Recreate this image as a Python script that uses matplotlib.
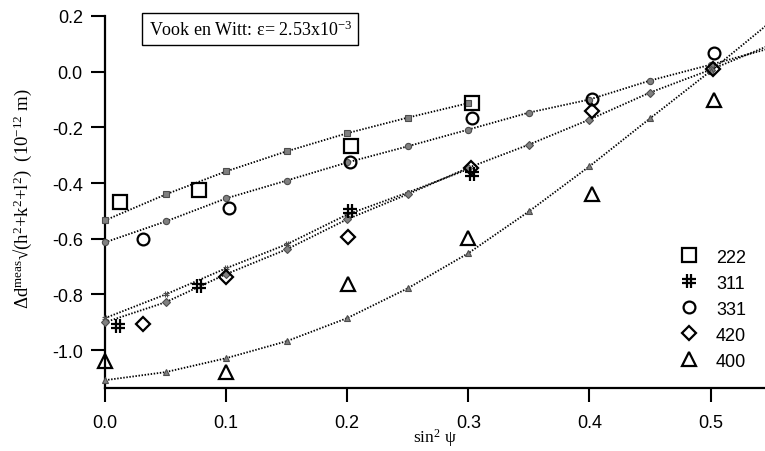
import numpy as np
import matplotlib
matplotlib.use('Agg')
import matplotlib.pyplot as plt
from matplotlib.path import Path
from matplotlib.lines import Line2D

plt.rcParams['font.family'] = ['Liberation Sans', 'DejaVu Sans']
plt.rcParams['axes.unicode_minus'] = False
plt.rcParams['mathtext.fontset'] = 'custom'
plt.rcParams['mathtext.rm'] = 'Liberation Serif'
plt.rcParams['mathtext.it'] = 'Liberation Serif:italic'

# measured points per reflection (sin^2 psi, value)
x_222 = [0.012, 0.078, 0.203, 0.303]
y_222 = [-0.467, -0.426, -0.268, -0.111]
x_311 = [0.011, 0.078, 0.202, 0.303]
y_311 = [-0.914, -0.770, -0.500, -0.368]
x_331 = [0.031, 0.102, 0.202, 0.303, 0.402, 0.503]
y_331 = [-0.602, -0.488, -0.325, -0.166, -0.098, 0.068]
x_420 = [0.031, 0.100, 0.201, 0.302, 0.402, 0.502]
y_420 = [-0.907, -0.738, -0.592, -0.345, -0.140, 0.010]
x_400 = [0.000, 0.100, 0.201, 0.300, 0.402, 0.503]
y_400 = [-1.040, -1.079, -0.763, -0.599, -0.441, -0.100]

# Vook-Witt model values
fit_x = [0.0, 0.05, 0.1, 0.15, 0.2, 0.25, 0.3, 0.35, 0.4, 0.45, 0.5]
fit_222 = [-0.534, -0.441, -0.358, -0.286, -0.221, -0.165, -0.113]
fit_311 = [-0.885, -0.800, -0.706, -0.620, -0.513, -0.434, -0.350]
fit_331 = [-0.613, -0.538, -0.455, -0.391, -0.326, -0.268, -0.208, -0.147, -0.100, -0.032, 0.025]
fit_420 = [-0.900, -0.828, -0.727, -0.638, -0.530, -0.440, -0.345, -0.262, -0.172, -0.075, 0.007]
fit_400 = [-1.108, -1.079, -1.029, -0.968, -0.885, -0.778, -0.652, -0.502, -0.340, -0.168, 0.002]
# model values at the right edge of the plot
edge_x = 0.55
edge_331 = 0.085
edge_420 = 0.097
edge_400 = 0.18

labels = ['222', '311', '331', '420', '400']

# hash marker built from two vertical and two horizontal strokes
hash_path = Path(
    [(-0.35, -1), (-0.35, 1), (0.35, -1), (0.35, 1),
     (-1, -0.35), (1, -0.35), (-1, 0.35), (1, 0.35)],
    [Path.MOVETO, Path.LINETO] * 4)

markers = ['s', hash_path, 'o', 'D', '^']
msizes = [9.5, 10, 8.5, 7.5, 9.5]

fig = plt.figure(figsize=(7.65, 4.52), dpi=100)
ax = fig.add_axes([0.1373, 0.1394, 0.8627, 0.823])

obs = [(x_222, y_222), (x_311, y_311), (x_331, y_331), (x_420, y_420), (x_400, y_400)]
fits = [fit_222, fit_311, fit_331, fit_420, fit_400]
edges = [None, None, edge_331, edge_420, edge_400]

for (xo, yo), fv, ev, m, ms in zip(obs, fits, edges, markers, msizes):
    fx = fit_x[:len(fv)]
    lx, ly = list(fx), list(fv)
    if ev is not None:
        lx.append(edge_x)
        ly.append(ev)
    ax.plot(lx, ly, color='black', lw=1.3, ls=(0, (0.8, 0.9)), zorder=2)
    ax.plot(fx, fv, ls='none', marker=m, ms=4.5, color='0.5', mec='0.3',
            mew=0.8, zorder=3, clip_on=False)
    ax.plot(xo, yo, ls='none', marker=m, ms=ms, mfc='none', mec='black',
            mew=1.6, zorder=4, clip_on=False)

ax.set_xlim(0, 0.545)
ax.set_ylim(-1.136, 0.2)
ax.set_xticks([0.0, 0.1, 0.2, 0.3, 0.4, 0.5])
ax.set_yticks([-1.0, -0.8, -0.6, -0.4, -0.2, 0.0, 0.2])
ax.xaxis.set_major_formatter(plt.FormatStrFormatter('%.1f'))
ax.yaxis.set_major_formatter(plt.FormatStrFormatter('%.1f'))
ax.tick_params(direction='out', length=10, width=1.5, labelsize=13, pad=6)
ax.tick_params(axis='x', pad=9)
for s in ['top', 'right']:
    ax.spines[s].set_visible(False)
for s in ['left', 'bottom']:
    ax.spines[s].set_linewidth(1.6)

ax.set_xlabel('sin$^2$ ψ', family='Liberation Serif', fontsize=12.5, labelpad=-4)
fig.text(0.030, 1 - 199 / 452,
         'Δd$^{\\rm meas}$√(h$^2$+k$^2$+l$^2$)  (10$^{-12}$ m)',
         family='Liberation Serif', fontsize=13.5, rotation=90,
         ha='center', va='center')

ax.text(0.036, 0.153, 'Vook en Witt: ε= 2.53x10$^{-3}$',
        family='Liberation Serif', fontsize=13, ha='left', va='center',
        bbox=dict(boxstyle='square,pad=0.35', fc='white', ec='black', lw=1.0))

handles = [Line2D([], [], ls='none', marker=m, ms=ms, mfc='none', mec='black', mew=1.6)
           for m, ms in zip(markers, msizes)]
ax.legend(handles, labels, loc='center left', bbox_to_anchor=(0.871, 0.212),
          frameon=False, fontsize=13, handlelength=1.0, handletextpad=1.0,
          labelspacing=0.5, borderpad=0, borderaxespad=0)

fig.savefig('out.png', dpi=100)
